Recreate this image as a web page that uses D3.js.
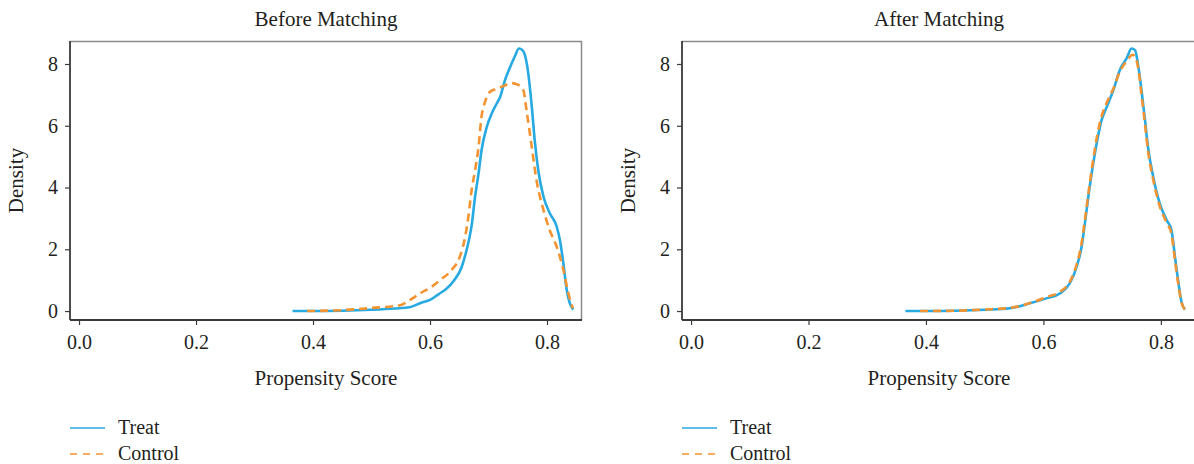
<!DOCTYPE html>
<html>
<head>
<meta charset="utf-8">
<script src="https://cdn.jsdelivr.net/npm/d3@7"></script>
<style>
  html, body { margin: 0; padding: 0; background: #fff; }
  svg { display: block; }
  text { font-family: "Liberation Serif", "DejaVu Serif", serif; fill: #231f20; }
</style>
</head>
<body>
<svg id="chart" width="1194" height="464"></svg>
<script>
// ---- Data ----
const panelTitles = ["Before Matching", "After Matching"];
const seriesNames = ["Treat", "Control"];
const xTicks = [0.0, 0.2, 0.4, 0.6, 0.8];
const yTicks = [0, 2, 4, 6, 8];
const xLabel = "Propensity Score";
const yLabel = "Density";

// Before matching: [propensity score, density]
const beforeTreat = [[0.365,0.0],[0.40,0.0],[0.45,0.01],[0.50,0.04],[0.54,0.08],[0.565,0.12],[0.585,0.27],[0.60,0.36],[0.615,0.55],[0.628,0.72],[0.641,0.99],[0.654,1.42],[0.661,1.86],[0.6665,2.3],[0.671,2.75],[0.677,3.7],[0.683,4.46],[0.688,5.2],[0.697,5.96],[0.7055,6.4],[0.714,6.72],[0.72,6.94],[0.728,7.47],[0.737,7.9],[0.745,8.25],[0.752,8.5],[0.758,8.45],[0.762,8.3],[0.768,7.69],[0.774,6.61],[0.779,5.53],[0.785,4.56],[0.794,3.7],[0.805,3.16],[0.8166,2.73],[0.822,2.3],[0.828,1.54],[0.8337,0.68],[0.839,0.25],[0.845,0.05]];
const beforeControl = [[0.39,0.0],[0.45,0.03],[0.50,0.10],[0.549,0.19],[0.566,0.36],[0.583,0.57],[0.603,0.79],[0.617,1.0],[0.637,1.33],[0.651,1.76],[0.66,2.4],[0.6655,3.05],[0.671,3.9],[0.677,4.56],[0.683,5.32],[0.688,6.29],[0.694,6.77],[0.7026,7.1],[0.715,7.2],[0.727,7.3],[0.7397,7.38],[0.75,7.33],[0.7595,7.15],[0.765,6.5],[0.774,5.3],[0.782,4.24],[0.794,3.27],[0.805,2.6],[0.8166,2.08],[0.828,1.33],[0.8366,0.57],[0.844,0.09]];
// After matching
const afterTreat = [[0.365,0.0],[0.40,0.0],[0.45,0.01],[0.50,0.04],[0.543,0.09],[0.577,0.25],[0.605,0.41],[0.628,0.57],[0.645,0.9],[0.6565,1.43],[0.665,2.08],[0.6706,2.84],[0.678,3.92],[0.6848,4.78],[0.6917,5.53],[0.699,6.18],[0.708,6.62],[0.719,7.15],[0.730,7.8],[0.742,8.2],[0.750,8.5],[0.756,8.45],[0.761,8.0],[0.767,7.15],[0.773,6.18],[0.778,5.32],[0.787,4.35],[0.798,3.49],[0.81,2.94],[0.818,2.62],[0.824,1.76],[0.83,0.9],[0.835,0.3],[0.841,0.05]];
const afterControl = [[0.39,0.0],[0.45,0.01],[0.50,0.05],[0.543,0.1],[0.577,0.26],[0.605,0.45],[0.628,0.62],[0.645,0.95],[0.6565,1.5],[0.665,2.2],[0.6706,2.95],[0.678,4.0],[0.6848,4.9],[0.6917,5.7],[0.699,6.3],[0.708,6.75],[0.719,7.2],[0.730,7.75],[0.742,8.1],[0.752,8.3],[0.757,8.2],[0.762,7.8],[0.767,7.0],[0.773,6.05],[0.778,5.2],[0.787,4.25],[0.798,3.4],[0.81,2.85],[0.818,2.5],[0.824,1.65],[0.83,0.82],[0.835,0.28],[0.841,0.05]];

const panelData = [[beforeTreat, beforeControl], [afterTreat, afterControl]];

// ---- Styles / layout ----
const colors = ["#27a9e1", "#f39331"];
const dashes = [null, "8,5"];
const panels = [
  {left: 70, right: 582},
  {left: 682, right: 1196}
];
const plotTop = 41, plotBottom = 320;
const xDomain = [-0.0154, 0.8598];
const yDomain = [-0.29, 8.745];

const svg = d3.select("#chart");

panels.forEach((p, i) => {
  const x = d3.scaleLinear().domain(xDomain).range([p.left, p.right]);
  const y = d3.scaleLinear().domain(yDomain).range([plotBottom, plotTop]);
  const g = svg.append("g");
  const cx = (p.left + p.right) / 2;

  // top/right frame (light)
  g.append("line").attr("x1", p.left).attr("x2", p.right).attr("y1", plotTop + 0.5).attr("y2", plotTop + 0.5)
    .attr("stroke", "#8a8a8a").attr("stroke-width", 1.5);
  g.append("line").attr("x1", p.right - 0.5).attr("x2", p.right - 0.5).attr("y1", plotTop).attr("y2", plotBottom)
    .attr("stroke", "#8a8a8a").attr("stroke-width", 1.5);

  // Axes
  const xAxis = d3.axisBottom(x).tickValues(xTicks).tickFormat(d3.format(".1f")).tickSize(5).tickSizeOuter(0);
  const yAxis = d3.axisLeft(y).tickValues(yTicks).tickFormat(d3.format("d")).tickSize(5).tickSizeOuter(0);

  const gx = g.append("g").attr("transform", `translate(0,${plotBottom})`).call(xAxis);
  const gy = g.append("g").attr("transform", `translate(${p.left},0)`).call(yAxis);
  [gx, gy].forEach(a => {
    a.select(".domain").attr("stroke", "#3a3a3a").attr("stroke-width", 1.8);
    a.selectAll(".tick line").attr("stroke", "#3a3a3a").attr("stroke-width", 1.2);
    a.selectAll(".tick text").attr("font-family", "Liberation Serif, serif").attr("font-size", 20).attr("fill", "#231f20");
  });
  gx.select(".domain").attr("d", `M${p.left},0H${p.right}`);
  gy.select(".domain").attr("d", `M0,${plotTop}V${plotBottom}`);
  gx.selectAll(".tick text").attr("dy", "1.05em");
  gy.selectAll(".tick text").attr("dx", "-0.2em");

  // Title
  g.append("text").attr("x", cx).attr("y", 26).attr("text-anchor", "middle")
    .attr("font-size", 21).text(panelTitles[i]);
  // X label
  g.append("text").attr("x", cx).attr("y", 385).attr("text-anchor", "middle")
    .attr("font-size", 21).text(xLabel);
  // Y label
  g.append("text").attr("transform", `translate(${p.left - 47},${(plotTop + plotBottom) / 2}) rotate(-90)`)
    .attr("text-anchor", "middle").attr("font-size", 21).text(yLabel);

  // Clip
  const clipId = "clip" + i;
  svg.append("clipPath").attr("id", clipId).append("rect")
    .attr("x", p.left).attr("y", plotTop).attr("width", p.right - p.left).attr("height", plotBottom - plotTop);

  const line = d3.line().x(d => x(d[0])).y(d => y(d[1])).curve(d3.curveMonotoneX);
  panelData[i].forEach((series, k) => {
    g.append("path").datum(series).attr("d", line).attr("fill", "none")
      .attr("clip-path", `url(#${clipId})`)
      .attr("stroke", colors[k]).attr("stroke-width", 2.6)
      .attr("stroke-dasharray", dashes[k]).attr("stroke-linejoin", "round");
  });

  // Legend
  seriesNames.forEach((name, k) => {
    const ly = 428 + k * 26;
    g.append("line").attr("x1", p.left).attr("x2", p.left + 35).attr("y1", ly).attr("y2", ly)
      .attr("stroke", colors[k]).attr("stroke-width", 1.6).attr("stroke-dasharray", k ? "7,6" : null);
    g.append("text").attr("x", p.left + 48).attr("y", ly + 6).attr("font-size", 20).text(name);
  });
});
</script>
</body>
</html>
